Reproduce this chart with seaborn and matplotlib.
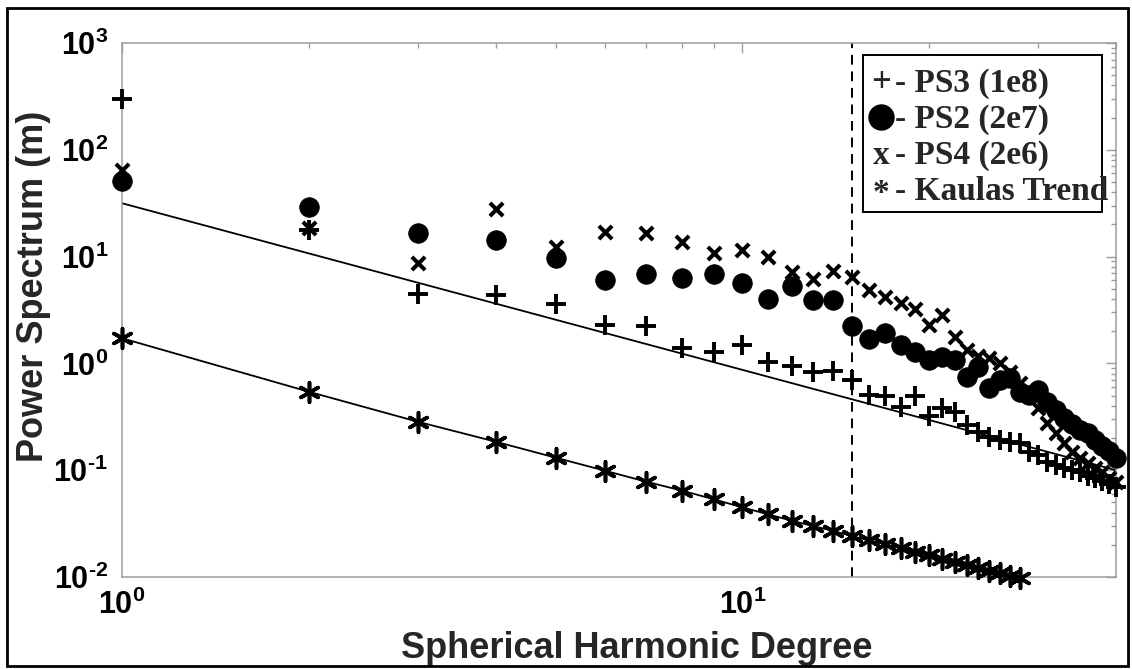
import numpy as np
import pandas as pd
import matplotlib
matplotlib.use("Agg")
import matplotlib.pyplot as plt
import seaborn as sns
from matplotlib.patches import Rectangle
from matplotlib.lines import Line2D
from matplotlib.ticker import FixedLocator, FuncFormatter, NullFormatter

# ---------------- data ----------------
degree = list(range(1, 41))
ps3 = [299, 17.7, 4.5, 4.4, 3.6, 2.3, 2.25, 1.38, 1.29, 1.49,
       1.02, 0.95, 0.83, 0.84, 0.70, 0.51, 0.49, 0.39, 0.49, 0.32,
       0.38, 0.35, 0.265, 0.23, 0.206, 0.192, 0.185, 0.179, 0.148, 0.139,
       0.119, 0.112, 0.105, 0.100, 0.096, 0.088, 0.085, 0.079, 0.074, 0.070]
ps2 = [51, 29, 16.6, 14.3, 9.8, 6.1, 6.8, 6.3, 6.9, 5.6,
       4.0, 5.3, 3.9, 3.9, 2.25, 1.68, 1.91, 1.49, 1.29, 1.08,
       1.16, 1.08, 0.75, 0.93, 0.585, 0.70, 0.73, 0.54, 0.51, 0.56,
       0.435, 0.366, 0.308, 0.271, 0.238, 0.223, 0.192, 0.169, 0.151, 0.130]
ps4 = [64, 18.5, 8.7, 27.7, 12.2, 17.1, 16.6, 13.8, 10.9, 11.5,
       10.0, 7.2, 6.2, 7.3, 6.5, 4.86, 4.21, 3.70, 3.21, 2.29,
       2.84, 1.75, 1.34, 1.18, 1.12, 1.0, 0.83, 0.66, 0.50, 0.38,
       0.275, 0.223, 0.179, 0.149, 0.130, 0.117, 0.105, 0.096, 0.085, 0.078]
kaula_degree = list(range(1, 29))
kaula = [1.72, 0.543, 0.284, 0.185, 0.131, 0.099, 0.078, 0.0643, 0.0533, 0.0449,
         0.0386, 0.0337, 0.030, 0.027, 0.0242, 0.0220, 0.0202, 0.0186, 0.0172, 0.0159,
         0.0149, 0.0139, 0.0130, 0.0122, 0.0115, 0.0109, 0.0103, 0.0098]
trend_degree = [1, 40]
trend_power = [31.6, 0.10]
cutoff_degree = 15
legend_symbols = ["+", "o", "x", "*"]
legend_labels = ["PS3 (1e8)", "PS2 (2e7)", "PS4 (2e6)", "Kaulas Trend"]
x_label = "Spherical Harmonic Degree"
y_label = "Power Spectrum (m)"

# ---------------- style ----------------
sns.set_style("white")
plt.rcParams["font.family"] = ["Liberation Sans", "DejaVu Sans"]
plt.rcParams["mathtext.fontset"] = "custom"
plt.rcParams["mathtext.rm"] = "Liberation Sans:bold"
plt.rcParams["mathtext.bf"] = "Liberation Sans:bold"
plt.rcParams["mathtext.it"] = "Liberation Sans:italic"

W, H = 1132, 669
fig = plt.figure(figsize=(W / 100, H / 100), dpi=100)
fig.patch.set_facecolor("white")
ax_l, ax_r, ax_t, ax_b = 122, 1116, 43, 577
ax = fig.add_axes([ax_l / W, (H - ax_b) / H, (ax_r - ax_l) / W, (ax_b - ax_t) / H])
ax.set_xscale("log")
ax.set_yscale("log")

df = pd.DataFrame({"degree": degree, "ps3": ps3, "ps2": ps2, "ps4": ps4})
kdf = pd.DataFrame({"degree": kaula_degree, "kaula": kaula})
tdf = pd.DataFrame({"degree": trend_degree, "power": trend_power})

# lines
sns.lineplot(data=tdf, x="degree", y="power", ax=ax, color="black", lw=1.3,
             estimator=None, legend=False, zorder=2)
sns.lineplot(data=kdf, x="degree", y="kaula", ax=ax, color="black", lw=1.3,
             estimator=None, legend=False, zorder=2)
ax.axvline(cutoff_degree, color="black", lw=1.4, ls=(0, (5, 3.5)), zorder=1)

# markers
asterisk = (6, 2, 0)
sns.scatterplot(data=df, x="degree", y="ps3", ax=ax, marker="+", s=210,
                color="black", linewidth=2.8, legend=False, zorder=3, clip_on=False)
sns.scatterplot(data=df, x="degree", y="ps2", ax=ax, marker="o", s=200,
                color="black", edgecolor="black", linewidth=0.5, legend=False,
                zorder=4, clip_on=False)
sns.scatterplot(data=df, x="degree", y="ps4", ax=ax, marker="x", s=90,
                color="black", linewidth=2.9, legend=False, zorder=3, clip_on=False)
sns.scatterplot(data=kdf, x="degree", y="kaula", ax=ax, marker=asterisk, s=200,
                color="black", linewidth=2.6, legend=False, zorder=3, clip_on=False)

ax.set_xlim(1, 40)
ax.set_ylim(1e-2, 1e3)

# ticks
def pow_label(v, pos):
    e = int(round(np.log10(v)))
    sign = r"\text{-}" if e < 0 else ""
    return r"$10^{%s%d}$" % (sign, abs(e))

ax.xaxis.set_major_locator(FixedLocator([1, 10]))
ax.xaxis.set_minor_locator(FixedLocator([2, 3, 4, 5, 6, 7, 8, 9, 20, 30, 40]))
ax.yaxis.set_major_locator(FixedLocator([10.0 ** k for k in range(-2, 4)]))
ax.yaxis.set_minor_locator(FixedLocator([m * 10.0 ** k for k in range(-2, 3) for m in range(2, 10)]))
ax.xaxis.set_major_formatter(FuncFormatter(pow_label))
ax.yaxis.set_major_formatter(FuncFormatter(pow_label))
ax.xaxis.set_minor_formatter(NullFormatter())
ax.yaxis.set_minor_formatter(NullFormatter())
spine_grey = "#9c9c9c"
ax.tick_params(which="both", direction="in", top=True, right=True,
               color=spine_grey, labelcolor="black", width=1.0)
ax.tick_params(which="major", length=7, labelsize=22)
ax.tick_params(which="minor", length=3.5)
ax.tick_params(axis="x", which="major", pad=9)
ax.tick_params(axis="y", which="major", pad=10)
for s in ax.spines.values():
    s.set_color(spine_grey)
    s.set_linewidth(1.1)

ax.set_xlabel(x_label, fontsize=26, fontweight="bold")
ax.set_ylabel(y_label, fontsize=26, fontweight="bold")
ax.xaxis.set_label_coords(0.518, -0.102)
ax.yaxis.set_label_coords(-0.071, 0.545)

# legend box (text legend as in the original)
def fx(px):
    return px / W

def fy(py):
    return (H - py) / H

fig.add_artist(Rectangle((fx(863), fy(212)), (1102 - 863) / W, (212 - 55) / H,
                         transform=fig.transFigure, facecolor="white",
                         edgecolor="black", lw=1.4, zorder=10))
serif = ["Liberation Serif", "DejaVu Serif"]
baselines = [92, 128, 164, 200]
for sym, lab, yb in zip(legend_symbols, legend_labels, baselines):
    if sym == "o":
        fig.add_artist(Line2D([fx(881)], [fy(yb - 11)], marker="o", ms=18,
                              color="black", transform=fig.transFigure, zorder=11))
    else:
        fig.text(fx(881), fy(yb if sym != "*" else yb + 2), sym, ha="center",
                 va="baseline", fontsize=25 if sym == "+" else 24,
                 fontweight="bold", family=serif, zorder=11)
    fig.text(fx(895), fy(yb), "- " + lab, ha="left", va="baseline", fontsize=24,
             fontweight="bold", family=serif, zorder=11)

# outer frame
fig.add_artist(Rectangle((fx(7), fy(666)), (1128 - 7) / W, (666 - 8) / H,
                         transform=fig.transFigure, fill=False, edgecolor="black",
                         lw=2, zorder=12))

fig.savefig("out.png", dpi=100, facecolor="white")
